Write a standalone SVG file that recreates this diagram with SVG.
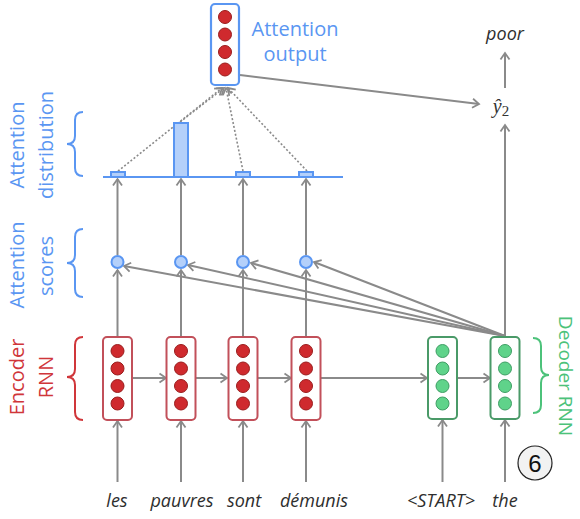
<svg xmlns="http://www.w3.org/2000/svg" width="580" height="519" viewBox="0 0 580 519">
<style>
.ln{stroke:#8a8a8a;stroke-width:2;fill:none}
.dot{stroke:#8a8a8a;stroke-width:1.6;fill:none;stroke-dasharray:2,2}
.lbl{font-family:"Open Sans","Noto Sans",sans-serif;font-size:20px}
.blue{fill:#5a96f2}
.red{fill:#d0363a}
.green{fill:#4cc27a}
.brb{stroke:#5a96f2;stroke-width:2;fill:none}
.brr{stroke:#d0363a;stroke-width:2;fill:none}
.brg{stroke:#4cc27a;stroke-width:2;fill:none}
.word{font-family:"Open Sans","Noto Sans",sans-serif;font-size:18px;font-style:italic;fill:#2e2e2e;text-anchor:middle}
.ebox{fill:#fff;stroke:#c2505a;stroke-width:2}
.gbox{fill:#fff;stroke:#4a9a68;stroke-width:2}
.bbox{fill:#fff;stroke:#5a96f2;stroke-width:2.2}
.rd{fill:#cf2a2e;stroke:#9a1c1c;stroke-width:1}
.gd{fill:#5fd38a;stroke:#3d9e63;stroke-width:1}
.sc{fill:#b4d0fa;stroke:#5a96f2;stroke-width:2}
.bar{fill:#b4d0fa;stroke:#5a96f2;stroke-width:2}
</style>
<defs>
<marker id="ah" viewBox="-8 -6 10 12" markerWidth="10" markerHeight="12" refX="0" refY="0" orient="auto" markerUnits="userSpaceOnUse">
<path d="M-6.5,-4.5 L0,0 L-6.5,4.5" fill="none" stroke="#8a8a8a" stroke-width="1.8"/>
</marker>
</defs>
<rect width="580" height="519" fill="#fff"/>

<g id="connectors">
<!-- inputs -->
<line class="ln" x1="117.5" y1="482" x2="117.5" y2="421" marker-end="url(#ah)"/>
<line class="ln" x1="181" y1="482" x2="181" y2="421" marker-end="url(#ah)"/>
<line class="ln" x1="243" y1="482" x2="243" y2="421" marker-end="url(#ah)"/>
<line class="ln" x1="306" y1="482" x2="306" y2="421" marker-end="url(#ah)"/>
<line class="ln" x1="442.5" y1="482" x2="442.5" y2="420" marker-end="url(#ah)"/>
<line class="ln" x1="505" y1="482" x2="505" y2="420" marker-end="url(#ah)"/>
<!-- recurrent -->
<line class="ln" x1="132" y1="378" x2="166" y2="378" marker-end="url(#ah)"/>
<line class="ln" x1="195" y1="378" x2="227" y2="378" marker-end="url(#ah)"/>
<line class="ln" x1="257" y1="378" x2="291" y2="378" marker-end="url(#ah)"/>
<line class="ln" x1="321" y1="378" x2="427" y2="378" marker-end="url(#ah)"/>
<line class="ln" x1="457" y1="378" x2="490" y2="378" marker-end="url(#ah)"/>
<!-- encoder to scores -->
<line class="ln" x1="117.5" y1="337" x2="117.5" y2="270" marker-end="url(#ah)"/>
<line class="ln" x1="181" y1="337" x2="181" y2="270" marker-end="url(#ah)"/>
<line class="ln" x1="243" y1="337" x2="243" y2="270" marker-end="url(#ah)"/>
<line class="ln" x1="306" y1="337" x2="306" y2="270" marker-end="url(#ah)"/>
<!-- decoder to scores -->
<line class="ln" x1="505" y1="336" x2="124" y2="266" marker-end="url(#ah)"/>
<line class="ln" x1="505" y1="336" x2="188" y2="265" marker-end="url(#ah)"/>
<line class="ln" x1="505" y1="336" x2="251" y2="263" marker-end="url(#ah)"/>
<line class="ln" x1="505" y1="336" x2="314" y2="262" marker-end="url(#ah)"/>
<!-- scores to distribution -->
<line class="ln" x1="117.5" y1="255" x2="117.5" y2="179" marker-end="url(#ah)"/>
<line class="ln" x1="181" y1="255" x2="181" y2="179" marker-end="url(#ah)"/>
<line class="ln" x1="243" y1="255" x2="243" y2="179" marker-end="url(#ah)"/>
<line class="ln" x1="306" y1="255" x2="306" y2="179" marker-end="url(#ah)"/>
<!-- distribution to output (dotted) -->
<line class="dot" x1="118" y1="171" x2="222" y2="88" marker-end="url(#ah)"/>
<line class="dot" x1="180" y1="122" x2="224" y2="88" marker-end="url(#ah)"/>
<line class="dot" x1="243" y1="171" x2="226" y2="88" marker-end="url(#ah)"/>
<line class="dot" x1="307" y1="171" x2="228" y2="88" marker-end="url(#ah)"/>
<!-- output to y hat -->
<line class="ln" x1="240" y1="75" x2="479" y2="104" marker-end="url(#ah)"/>
<!-- decoder to y hat -->
<line class="ln" x1="505" y1="337" x2="505" y2="125" marker-end="url(#ah)"/>
<!-- y hat to poor -->
<line class="ln" x1="505" y1="88" x2="505" y2="53" marker-end="url(#ah)"/>
</g>

<g id="attention-distribution">
<line x1="103" y1="177" x2="343" y2="177" stroke="#5a96f2" stroke-width="2"/>
<rect class="bar" x="111" y="172" width="14" height="5"/>
<rect class="bar" x="174" y="123" width="14" height="54"/>
<rect class="bar" x="236" y="172" width="14" height="5"/>
<rect class="bar" x="299" y="172" width="14" height="5"/>
</g>

<g id="attention-scores">
<circle class="sc" cx="117.5" cy="262" r="6"/>
<circle class="sc" cx="181" cy="262" r="6"/>
<circle class="sc" cx="243" cy="262" r="6"/>
<circle class="sc" cx="306" cy="262" r="6"/>
</g>

<g id="attention-output">
<rect class="bbox" x="211" y="4" width="28" height="81" rx="4"/>
<circle class="rd" cx="225" cy="17" r="6.5"/>
<circle class="rd" cx="225" cy="34.5" r="6.5"/>
<circle class="rd" cx="225" cy="52" r="6.5"/>
<circle class="rd" cx="225" cy="69.5" r="6.5"/>
<text class="lbl blue" x="295" y="36" text-anchor="middle">Attention</text>
<text class="lbl blue" x="295" y="61" text-anchor="middle">output</text>
</g>

<g id="encoder-1">
<rect class="ebox" x="103" y="337" width="29" height="83" rx="4"/>
<circle class="rd" cx="117.5" cy="351" r="6.5"/>
<circle class="rd" cx="117.5" cy="368.5" r="6.5"/>
<circle class="rd" cx="117.5" cy="386" r="6.5"/>
<circle class="rd" cx="117.5" cy="403.5" r="6.5"/>
</g>
<g id="encoder-2">
<rect class="ebox" x="166.5" y="337" width="29" height="83" rx="4"/>
<circle class="rd" cx="181" cy="351" r="6.5"/>
<circle class="rd" cx="181" cy="368.5" r="6.5"/>
<circle class="rd" cx="181" cy="386" r="6.5"/>
<circle class="rd" cx="181" cy="403.5" r="6.5"/>
</g>
<g id="encoder-3">
<rect class="ebox" x="228.5" y="337" width="29" height="83" rx="4"/>
<circle class="rd" cx="243" cy="351" r="6.5"/>
<circle class="rd" cx="243" cy="368.5" r="6.5"/>
<circle class="rd" cx="243" cy="386" r="6.5"/>
<circle class="rd" cx="243" cy="403.5" r="6.5"/>
</g>
<g id="encoder-4">
<rect class="ebox" x="291.5" y="337" width="29" height="83" rx="4"/>
<circle class="rd" cx="306" cy="351" r="6.5"/>
<circle class="rd" cx="306" cy="368.5" r="6.5"/>
<circle class="rd" cx="306" cy="386" r="6.5"/>
<circle class="rd" cx="306" cy="403.5" r="6.5"/>
</g>
<g id="decoder-1">
<rect class="gbox" x="428" y="337" width="29" height="82" rx="4"/>
<circle class="gd" cx="442.5" cy="351" r="6.5"/>
<circle class="gd" cx="442.5" cy="368.5" r="6.5"/>
<circle class="gd" cx="442.5" cy="386" r="6.5"/>
<circle class="gd" cx="442.5" cy="403.5" r="6.5"/>
</g>
<g id="decoder-2">
<rect class="gbox" x="490.5" y="337" width="29" height="82" rx="4"/>
<circle class="gd" cx="505" cy="351" r="6.5"/>
<circle class="gd" cx="505" cy="368.5" r="6.5"/>
<circle class="gd" cx="505" cy="386" r="6.5"/>
<circle class="gd" cx="505" cy="403.5" r="6.5"/>
</g>

<g id="output-yhat">
<text x="501" y="113" font-family="'Liberation Serif',serif" font-size="20" font-style="italic" fill="#333" text-anchor="middle">ŷ<tspan font-style="normal" font-size="15" dy="3">2</tspan></text>
</g>
<g id="output-word">
<text class="word" x="505" y="40">poor</text>
</g>

<g id="input-words">
<text class="word" x="117" y="507">les</text>
<text class="word" x="182" y="507">pauvres</text>
<text class="word" x="244" y="507">sont</text>
<text class="word" x="314" y="507">démunis</text>
<text class="word" x="441" y="507">&lt;START&gt;</text>
<text class="word" x="505" y="507">the</text>
</g>

<g id="label-attention-distribution">
<path class="brb" d="M83,112 Q75,112 75,120 L75,136 Q75,144 67,144 Q75,144 75,152 L75,168 Q75,176 83,176"/>
<text class="lbl blue" text-anchor="middle" transform="translate(24,145) rotate(-90)">Attention</text>
<text class="lbl blue" text-anchor="middle" transform="translate(53,145) rotate(-90)">distribution</text>
</g>
<g id="label-attention-scores">
<path class="brb" d="M83,229 Q75,229 75,237 L75,255 Q75,263 67,263 Q75,263 75,271 L75,289 Q75,297 83,297"/>
<text class="lbl blue" text-anchor="middle" transform="translate(24,265) rotate(-90)">Attention</text>
<text class="lbl blue" text-anchor="middle" transform="translate(53,266) rotate(-90)">scores</text>
</g>
<g id="label-encoder">
<path class="brr" d="M83,337 Q75,337 75,345 L75,369 Q75,377 67,377 Q75,377 75,385 L75,412 Q75,420 83,420"/>
<text class="lbl red" text-anchor="middle" transform="translate(24,377) rotate(-90)">Encoder</text>
<text class="lbl red" text-anchor="middle" transform="translate(53,377) rotate(-90)">RNN</text>
</g>
<g id="label-decoder">
<path class="brg" d="M533,338 Q541,338 541,346 L541,367 Q541,375 549,375 Q541,375 541,383 L541,405 Q541,413 533,413"/>
<text class="lbl green" font-size="19" style="font-size:19px" text-anchor="middle" transform="translate(559,376) rotate(90)">Decoder RNN</text>
</g>

<g id="step-badge">
<circle cx="535" cy="463" r="17" fill="#f2f2f2" stroke="#222" stroke-width="1.2"/>
<text x="535" y="471.5" font-family="'Liberation Sans',sans-serif" font-size="24" fill="#111" text-anchor="middle">6</text>
</g>
</svg>
